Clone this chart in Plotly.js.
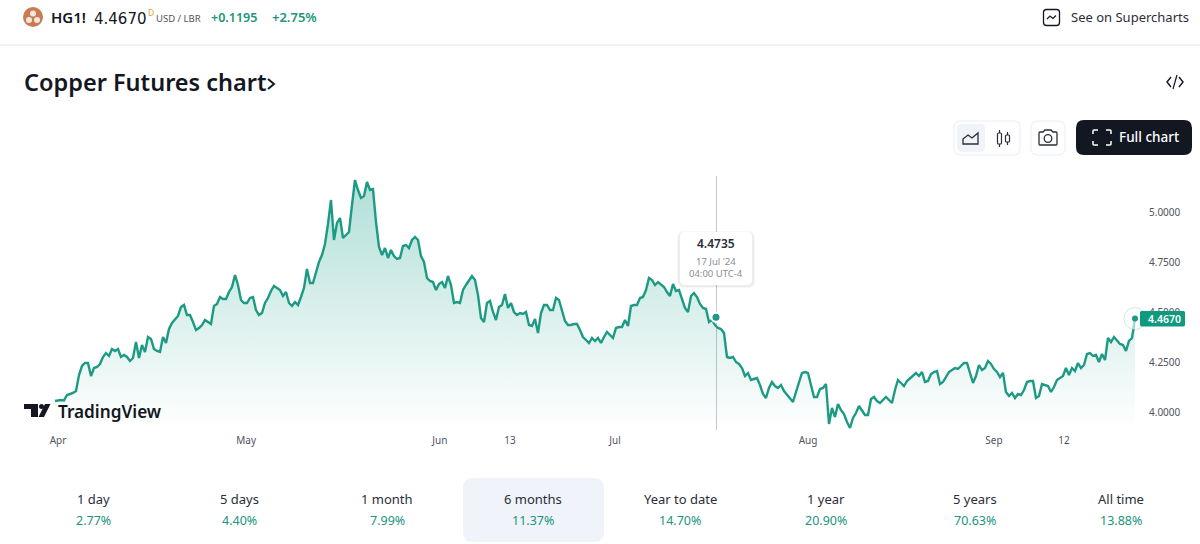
<!DOCTYPE html>
<html><head><meta charset="utf-8">
<script src="https://cdn.plot.ly/plotly-3.0.1.min.js"></script>
<style>html,body{margin:0;padding:0;background:#fff;overflow:hidden}#c{width:1200px;height:544px}</style>
</head><body><div id="c"></div>
<script>
// Copper futures (HG1!) closing values, evenly spaced sessions
const sessionValues = [
4.055,4.058,4.06,4.058,4.085,4.09,4.095,4.105,4.185,4.23,4.245,4.245,4.18,4.22,4.225,4.24,4.275,4.295,4.28,4.315,
4.305,4.315,4.275,4.285,4.275,4.255,4.27,4.35,4.27,4.335,4.30,4.375,4.365,4.315,4.305,4.30,4.375,4.345,4.415,4.445,
4.465,4.48,4.525,4.535,4.485,4.485,4.45,4.41,4.42,4.435,4.46,4.45,4.44,4.53,4.54,4.575,4.565,4.565,4.60,4.625,
4.685,4.635,4.56,4.545,4.545,4.57,4.575,4.51,4.485,4.495,4.545,4.57,4.605,4.63,4.62,4.61,4.58,4.60,4.545,4.53,
4.55,4.535,4.575,4.62,4.715,4.645,4.645,4.705,4.75,4.785,4.84,4.94,5.06,4.86,4.945,4.97,4.87,4.885,4.90,5.035,
5.16,5.11,5.07,5.08,5.15,5.11,5.115,4.95,4.825,4.785,4.82,4.77,4.81,4.78,4.765,4.77,4.83,4.835,4.82,4.86,
4.875,4.86,4.78,4.75,4.67,4.655,4.65,4.61,4.64,4.65,4.62,4.68,4.635,4.545,4.55,4.545,4.61,4.635,4.655,4.68,
4.66,4.585,4.47,4.45,4.545,4.555,4.50,4.46,4.525,4.535,4.59,4.52,4.545,4.50,4.485,4.495,4.49,4.50,4.435,4.43,
4.465,4.395,4.495,4.535,4.535,4.51,4.51,4.57,4.56,4.50,4.455,4.435,4.435,4.44,4.44,4.41,4.375,4.36,4.345,4.37,
4.355,4.37,4.345,4.375,4.40,4.385,4.37,4.42,4.425,4.425,4.46,4.43,4.53,4.535,4.535,4.57,4.575,4.61,4.67,4.66,
4.635,4.65,4.635,4.625,4.60,4.58,4.64,4.605,4.61,4.56,4.52,4.50,4.58,4.595,4.575,4.54,4.52,4.515,4.45,4.46,
4.435,4.42,4.415,4.395,4.275,4.27,4.275,4.25,4.24,4.22,4.18,4.195,4.16,4.165,4.17,4.135,4.09,4.07,4.12,4.15,
4.13,4.12,4.135,4.105,4.085,4.07,4.05,4.10,4.15,4.195,4.20,4.195,4.135,4.075,4.075,4.115,4.12,4.14,3.94,4.02,
3.975,4.04,4.01,3.99,3.95,3.92,3.97,3.995,4.03,4.005,3.985,3.985,4.065,4.075,4.055,4.045,4.06,4.075,4.06,4.045,
4.11,4.16,4.145,4.13,4.155,4.17,4.185,4.195,4.18,4.20,4.15,4.155,4.19,4.20,4.205,4.14,4.15,4.175,4.20,4.21,
4.22,4.215,4.23,4.245,4.245,4.20,4.145,4.18,4.235,4.21,4.22,4.255,4.24,4.215,4.20,4.175,4.195,4.10,4.08,4.095,
4.07,4.09,4.085,4.11,4.15,4.155,4.155,4.07,4.08,4.14,4.135,4.13,4.10,4.125,4.16,4.17,4.18,4.22,4.185,4.22,
4.205,4.245,4.22,4.235,4.29,4.295,4.28,4.285,4.25,4.29,4.26,4.37,4.35,4.375,4.355,4.34,4.335,4.305,4.355,4.37,
4.467];
const priceTicks = [4.0, 4.25, 4.5, 4.75, 5.0];
const timeTickSessions = [1, 63.7, 128.3, 151.7, 186.7, 251, 313, 336.3];
const timeTickLabels = ["Apr", "May", "Jun", "13", "Jul", "Aug", "Sep", "12"];
const hoverSession = [220.33];
const hoverValue = [4.4735];
const periodLabels = ["1 day", "5 days", "1 month", "6 months", "Year to date", "1 year", "5 years", "All time"];
const periodChanges = ["2.77%", "4.40%", "7.99%", "11.37%", "14.70%", "20.90%", "70.63%", "13.88%"];

const W = 1200, H = 544;
const FONT = '"Noto Sans", "Open Sans", sans-serif';
const DJ = '"DejaVu Sans", sans-serif';
const INK = '#131722', GREEN = '#1d9a83', SOFT = '#f0f3fa';
const px = x => x / W, py = y => 1 - y / H;

const sessions = sessionValues.map((_, i) => i);
const lastI = sessions.length - 1;

const traces = [
  {x: sessions, y: sessionValues, type: 'scatter', mode: 'lines', fill: 'tozeroy',
   line: {color: GREEN, width: 2.4, shape: 'linear'},
   fillcolor: 'rgba(8,153,129,0.1)',
   fillgradient: {type: 'vertical', start: 3.91, stop: 5.18,
     colorscale: [[0, 'rgba(8,153,129,0)'], [1, 'rgba(8,153,129,0.32)']]},
   hoverinfo: 'skip'},
  {x: [lastI], y: [sessionValues[lastI]], type: 'scatter', mode: 'markers',
   marker: {size: 22, color: 'rgba(255,255,255,0.6)', line: {color: 'rgba(8,153,129,0.22)', width: 1}}, hoverinfo: 'skip'},
  {x: [lastI], y: [sessionValues[lastI]], type: 'scatter', mode: 'markers',
   marker: {size: 6, color: GREEN}, hoverinfo: 'skip'},
  {x: hoverSession, y: hoverValue, type: 'scatter', mode: 'markers',
   marker: {size: 9, color: GREEN, line: {color: '#fff', width: 2}}, hoverinfo: 'skip'}
];

// ---- page chrome helpers, in window pixels ----
function P(cmds) {
  return cmds.map(c => {
    let s = c[0];
    for (let i = 1; i < c.length; i += 2) s += ' ' + px(c[i]).toFixed(5) + ',' + py(c[i + 1]).toFixed(5);
    return s;
  }).join(' ');
}
function roundRect(x0, y0, x1, y1, r) {
  return P([['M', x0 + r, y0], ['L', x1 - r, y0], ['Q', x1, y0, x1, y0 + r], ['L', x1, y1 - r], ['Q', x1, y1, x1 - r, y1],
    ['L', x0 + r, y1], ['Q', x0, y1, x0, y1 - r], ['L', x0, y0 + r], ['Q', x0, y0, x0 + r, y0], ['Z']]);
}
const shapeBase = {xref: 'paper', yref: 'paper'};
function pathS(path, o) { return Object.assign({type: 'path', path, layer: 'above', line: {width: 0}}, shapeBase, o || {}); }
function rr(x0, y0, x1, y1, r, fill, stroke, sw, layer) {
  return pathS(roundRect(x0, y0, x1, y1, r), {fillcolor: fill || 'rgba(0,0,0,0)', line: {color: stroke || 'rgba(0,0,0,0)', width: sw || 0}, layer: layer || 'above'});
}
function circle(cx, cy, r, fill, stroke, sw) {
  return Object.assign({type: 'circle', x0: px(cx - r), x1: px(cx + r), y0: py(cy - r), y1: py(cy + r), layer: 'above',
    fillcolor: fill || 'rgba(0,0,0,0)', line: {color: stroke || 'rgba(0,0,0,0)', width: sw || 0}}, shapeBase);
}
function stroke(cmds, color, w) {
  return pathS(P(cmds), {line: {color, width: w || 1.5}, fillcolor: 'rgba(0,0,0,0)'});
}
function T(text, x, y, size, color, anchor, weight, fam) {
  return {text, x: px(x), y: py(y), xref: 'paper', yref: 'paper', showarrow: false, xanchor: anchor || 'left', yanchor: 'middle',
    align: anchor || 'left', borderpad: 0, font: {family: fam || FONT, size, color, weight: weight || 400}};
}

const shapes = [
  // header
  pathS(P([['M', 0, 45], ['L', 1200, 45]]), {line: {color: '#e0e3eb', width: 1}}),
  circle(33, 17, 10, '#c97b52'),
  circle(33, 13.5, 3, '#f6e7dc'), circle(29, 20, 3, '#f6e7dc'), circle(37, 20, 3, '#f6e7dc'),
  rr(1043.5, 9.5, 1059.5, 25.5, 3, null, INK, 1.3),
  stroke([['M', 1047, 19], ['L', 1050, 16], ['L', 1053, 18.5], ['L', 1056, 15.5]], INK, 1.2),
  // title chevron and embed icon
  stroke([['M', 268, 79], ['L', 274, 84], ['L', 268, 89]], INK, 2),
  stroke([['M', 1171, 77], ['L', 1167, 82], ['L', 1171, 87]], INK, 1.4),
  stroke([['M', 1179, 77], ['L', 1183, 82], ['L', 1179, 87]], INK, 1.4),
  stroke([['M', 1177, 75], ['L', 1173, 89]], INK, 1.2),
  // chart-style buttons
  rr(954, 121, 1020, 155, 7, '#fff', SOFT, 1.5),
  rr(957, 124, 985, 152, 5, SOFT),
  stroke([['M', 963, 144], ['L', 963, 139], ['L', 968, 135], ['L', 972, 138], ['L', 978, 133], ['L', 978, 144], ['Z']], '#2a2e39', 1.3),
  stroke([['M', 999.5, 130], ['L', 999.5, 147]], '#2a2e39', 1.2),
  rr(997.5, 133, 1001.5, 144, 1, '#fff', '#2a2e39', 1.2),
  stroke([['M', 1007.5, 132], ['L', 1007.5, 145]], '#2a2e39', 1.2),
  rr(1005.5, 135, 1009.5, 142, 1, '#fff', '#2a2e39', 1.2),
  rr(1031, 121, 1065, 155, 7, '#fff', SOFT, 1.5),
  pathS(P([['M', 1040, 132], ['L', 1043, 132], ['L', 1045, 130], ['L', 1051, 130], ['L', 1053, 132], ['L', 1056, 132], ['Q', 1057, 132, 1057, 133],
    ['L', 1057, 144], ['Q', 1057, 145, 1056, 145], ['L', 1040, 145], ['Q', 1039, 145, 1039, 144], ['L', 1039, 133], ['Q', 1039, 132, 1040, 132], ['Z']]),
    {fillcolor: 'rgba(0,0,0,0)', line: {color: '#2a2e39', width: 1.3}}),
  circle(1048, 138.5, 3.8, null, '#2a2e39', 1.3),
  rr(1076, 120, 1192, 155, 8, INK),
  stroke([['M', 1093, 134], ['L', 1093, 131], ['Q', 1093, 130, 1094, 130], ['L', 1098, 130]], '#fff', 1.5),
  stroke([['M', 1106, 130], ['L', 1110, 130], ['Q', 1111, 130, 1111, 131], ['L', 1111, 134]], '#fff', 1.5),
  stroke([['M', 1093, 141], ['L', 1093, 144], ['Q', 1093, 145, 1094, 145], ['L', 1098, 145]], '#fff', 1.5),
  stroke([['M', 1106, 145], ['L', 1110, 145], ['Q', 1111, 145, 1111, 144], ['L', 1111, 141]], '#fff', 1.5),
  // crosshair + tooltip
  pathS(P([['M', 716.5, 176], ['L', 716.5, 430]]), {line: {color: '#c4c7cf', width: 1}, layer: 'below'}),
  rr(677, 231, 755, 288, 7, 'rgba(19,23,34,0.03)'),
  rr(678, 232, 754, 287, 6, 'rgba(19,23,34,0.05)'),
  rr(680, 232, 752, 285, 5, '#fff'),
  // latest-price tag
  rr(1140, 311, 1185, 326.5, 1.5, '#0f9a80'),
  // logo
  pathS(P([['M', 24, 404], ['L', 38, 404], ['L', 38, 417], ['L', 31, 417], ['L', 31, 409], ['L', 24, 409], ['Z']]), {fillcolor: INK}),
  circle(41.5, 406.5, 2.5, INK),
  pathS(P([['M', 45, 404], ['L', 50.5, 404], ['L', 44, 417], ['L', 38.5, 417], ['Z']]), {fillcolor: INK}),
  // period highlight
  rr(463, 478, 604, 542, 10, SOFT, null, 0, 'below')
];

const periodX = [93, 239, 387, 533, 680, 826, 975, 1121];
const annotations = [
  T('HG1!', 50, 17, 15, INK, 'left', 600),
  T('4.4670', 93, 18.5, 15, INK, 'left', 400, DJ),
  T('D', 146.5, 12.5, 8.5, '#e8a33d'),
  T('USD / LBR', 155, 19, 9.5, '#50535e'),
  T('+0.1195', 210, 17, 12.5, '#22947d', 'left', 600),
  T('+2.75%', 271, 17, 13, '#22947d', 'left', 600),
  T('See on Supercharts', 1070, 17, 13, '#2a2e39'),
  T('Copper Futures chart', 23, 82, 23.5, INK, 'left', 600),
  T('Full chart', 1118, 137.5, 13.5, '#fff', 'left', 500),
  T('4.4735', 716, 243, 12, '#2a2e39', 'center', 600),
  T("17 Jul '24", 716, 261, 9.5, '#8a8d96', 'center'),
  T('04:00 UTC-4', 716, 273, 9.5, '#8a8d96', 'center'),
  T('4.4670', 1164, 319, 10.5, '#fff', 'center', 600),
  T('TradingView', 57, 411, 17.2, INK, 'left', 600)
];
periodLabels.forEach((l, i) => {
  annotations.push(T(l, periodX[i], 499, 13, '#2a2e39', 'center'));
  annotations.push(T(periodChanges[i], periodX[i], 520, 12.5, '#22947d', 'center'));
});

const layout = {
  width: W, height: H, margin: {l: 0, r: 0, t: 0, b: 0, pad: 0}, showlegend: false,
  paper_bgcolor: '#fff', plot_bgcolor: '#fff',
  font: {family: FONT, color: '#50535e'},
  xaxis: {domain: [45 / W, 1146 / W], range: [-3.33, 363.67], tickmode: 'array', tickvals: timeTickSessions, ticktext: timeTickLabels,
    showgrid: false, zeroline: false, showline: false, ticks: '', ticklabelstandoff: 3, tickfont: {size: 10, color: '#50535e', family: FONT}, automargin: false, fixedrange: true},
  yaxis: {domain: [1 - 430 / H, 1 - 176 / H], range: [3.91, 5.18], side: 'right', tickmode: 'array', tickvals: priceTicks, tickformat: '.4f',
    showgrid: false, zeroline: false, showline: false, ticks: '', ticklabelstandoff: 2, tickfont: {size: 10, color: '#50535e', family: FONT}, automargin: false, fixedrange: true},
  shapes, annotations
};
Plotly.newPlot('c', traces, layout, {displayModeBar: false, staticPlot: true, responsive: false});
</script></body></html>
